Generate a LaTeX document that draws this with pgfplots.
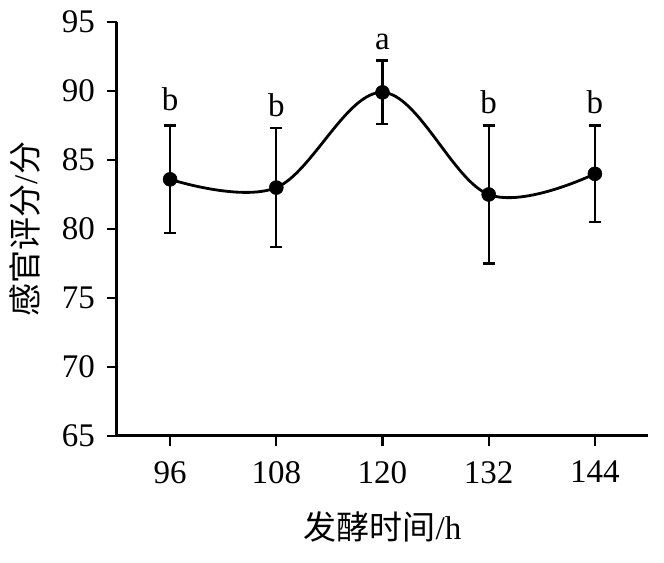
\documentclass[border=0pt]{standalone}
\usepackage{pgfplots}
\pgfplotsset{compat=1.18}
\usepackage{fontspec}
\setmainfont{Liberation Serif}
\newfontfamily\cjk{Noto Sans CJK SC}
\begin{document}
\fontsize{33}{40}\selectfont
\begin{tikzpicture}
\begin{axis}[
  scale only axis, width=531pt, height=414pt,
  xmin=90, xmax=150, ymin=65, ymax=95,
  xtick={96,108,120,132,144}, ytick={65,70,...,95},
  axis x line*=bottom, axis y line*=left,
  tick align=outside, major tick length=10pt,
  tick style={line width=2.4pt, black},
  axis line style={line width=3pt},
  ticklabel style={font=\fontsize{33}{40}\selectfont},
  /pgf/number format/assume math mode=true,
  xticklabel style={yshift=-4pt},
  yticklabel style={xshift=-1pt},
  xlabel={{\cjk 发酵时间}/h}, ylabel={{\cjk 感官评分}/{\cjk 分}},
  label style={font=\fontsize{33}{40}\selectfont},
  xlabel style={yshift=-6pt},
  ylabel style={yshift=-1pt},
  clip=false,
]
\addplot[black, line width=2.8pt, smooth, tension=0.6, mark=*, mark size=7pt,
  mark options={fill=black, line width=0.5pt},
  error bars/.cd, y dir=both, y explicit,
  error bar style={line width=2.4pt, black},
  error mark options={rotate=90, mark size=6pt, line width=2.4pt, black}]
  coordinates {
  (96,83.6) +- (0,3.9)
  (108,83.0) +- (0,4.3)
  (120,89.9) += (0,2.3) -= (0,2.3)
  (132,82.5) += (0,5.0) -= (0,5.0)
  (144,84.0) +- (0,3.5)
  };
\node[anchor=base, inner sep=0pt, font=\fontsize{33}{40}\selectfont] at (axis cs:96,88.62) {b};
\node[anchor=base, inner sep=0pt, font=\fontsize{33}{40}\selectfont] at (axis cs:108,88.12) {b};
\node[anchor=base, inner sep=0pt, font=\fontsize{33}{40}\selectfont] at (axis cs:120,93.04) {a};
\node[anchor=base, inner sep=0pt, font=\fontsize{33}{40}\selectfont] at (axis cs:132,88.4) {b};
\node[anchor=base, inner sep=0pt, font=\fontsize{33}{40}\selectfont] at (axis cs:144,88.4) {b};
\end{axis}
\pgfresetboundingbox
\path[use as bounding box] ([shift={(-117pt,-127pt)}]current axis.south west) rectangle ([shift={(16pt,22pt)}]current axis.north east);
\end{tikzpicture}
\end{document}
